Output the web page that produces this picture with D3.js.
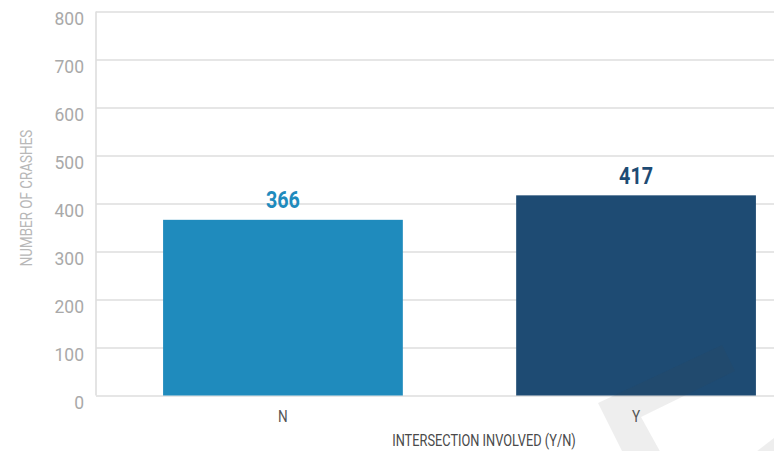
<!DOCTYPE html>
<html>
<head>
<meta charset="utf-8">
<script src="https://cdn.jsdelivr.net/npm/d3@7"></script>
<style>
  html, body { margin: 0; padding: 0; background: #fff; }
  svg { display: block; }
</style>
</head>
<body>
<svg id="chart" width="774" height="451"></svg>
<script>
// Crashes by whether an intersection was involved
const categories = ["N", "Y"];
const crashCounts = [366, 417];
const barColors = ["#1f8bbd", "#1e4b73"];
const yTicks = [0, 100, 200, 300, 400, 500, 600, 700, 800];
const xTitle = "INTERSECTION INVOLVED (Y/N)";
const yTitle = "NUMBER OF CRASHES";

const svg = d3.select("#chart");
const W = 774, H = 451;
const plotLeft = 96, plotTop = 11.5, plotBottom = 395.5;

const y = d3.scaleLinear().domain([0, 800]).range([plotBottom, plotTop]);
const x = d3.scaleBand()
  .domain(categories)
  .range([plotLeft, 823])
  .paddingInner(0.321)
  .paddingOuter(0.19);

const font = "Roboto, 'DejaVu Sans', sans-serif";

// horizontal gridlines and tick labels
const yAxis = d3.axisLeft(y)
  .tickValues(yTicks)
  .tickSize(-(W - plotLeft))
  .tickPadding(12);
const gy = svg.append("g")
  .attr("transform", `translate(${plotLeft},0)`)
  .call(yAxis);
gy.select(".domain").remove();
gy.selectAll(".tick line")
  .attr("stroke", "#dedede")
  .attr("stroke-width", 1.6);
gy.selectAll(".tick text")
  .attr("fill", "#a9a9a9")
  .attr("font-family", font)
  .attr("font-size", 17.5)
  .attr("dy", "0.32em")
  .attr("y", 7);

// left axis line
svg.append("line")
  .attr("x1", plotLeft).attr("x2", plotLeft)
  .attr("y1", y(800)).attr("y2", y(0))
  .attr("stroke", "#dedede")
  .attr("stroke-width", 1.6);

// bars
const data = categories.map((c, i) => ({ cat: c, value: crashCounts[i], color: barColors[i] }));
svg.append("g").selectAll("rect")
  .data(data)
  .join("rect")
  .attr("x", d => x(d.cat))
  .attr("y", d => y(d.value))
  .attr("width", x.bandwidth())
  .attr("height", d => y(0) - y(d.value))
  .attr("fill", d => d.color);

// condensed text helper
function condensed(sel, tx, ty, sx, rot) {
  return sel.append("g")
    .attr("transform", `translate(${tx},${ty})${rot ? ` rotate(${rot})` : ""} scale(${sx},1)`)
    .append("text")
    .attr("text-anchor", "middle")
    .attr("font-family", font);
}

// value labels
data.forEach(d => {
  condensed(svg, x(d.cat) + x.bandwidth() / 2, y(d.value) - 11.5, 0.84)
    .attr("font-size", 23.5)
    .attr("font-weight", "bold")
    .attr("fill", d.color)
    .text(d.value);
});

// category labels
categories.forEach(c => {
  condensed(svg, x(c) + x.bandwidth() / 2, 422, 0.8)
    .attr("font-size", 17)
    .attr("fill", "#555")
    .text(c);
});

// axis titles
condensed(svg, 484, 446, 0.8)
  .attr("font-size", 16)
  .attr("fill", "#4a4a4a")
  .text(xTitle);

condensed(svg, 32, 198, 0.84, -90)
  .attr("font-size", 16)
  .attr("fill", "#b8b8b8")
  .text(yTitle);

// faint logo watermark in the lower right corner
const mark = [[598, 403], [722, 345], [735, 371], [641, 417], [662, 455], [624, 455]];
svg.append("path")
  .attr("d", d3.line()(mark) + "Z")
  .attr("fill", "#484848")
  .attr("opacity", 0.09);
svg.append("path")
  .attr("d", d3.line()([[752, 455], [774, 438], [774, 455]]) + "Z")
  .attr("fill", "#484848")
  .attr("opacity", 0.09);
</script>
</body>
</html>
